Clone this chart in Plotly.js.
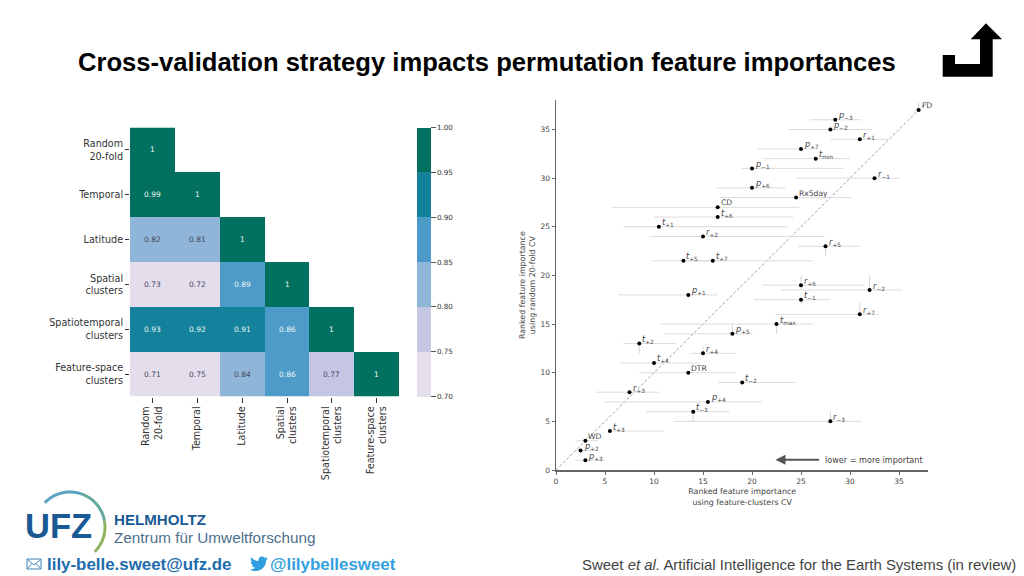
<!DOCTYPE html>
<html><head><meta charset="utf-8">
<script src="https://cdn.plot.ly/plotly-3.0.1.min.js"></script>
<style>html,body{margin:0;padding:0;background:#fff}#c{width:1024px;height:576px}</style>
</head><body><div id="c"></div>
<script>
const W=1024,H=576;
// ---- correlation matrix
const cvNames=['Random<br>20-fold','Temporal','Latitude','Spatial<br>clusters','Spatiotemporal<br>clusters','Feature-space<br>clusters'];
const corrRow1=[1,null,null,null,null,null];
const corrRow2=[0.99,1,null,null,null,null];
const corrRow3=[0.82,0.81,1,null,null,null];
const corrRow4=[0.73,0.72,0.89,1,null,null];
const corrRow5=[0.93,0.92,0.91,0.86,1,null];
const corrRow6=[0.71,0.75,0.84,0.86,0.77,1];
const corr=[corrRow1,corrRow2,corrRow3,corrRow4,corrRow5,corrRow6];
const bandColors=['#e4deec','#c4c6e3','#8fb6d8','#4c9bc9','#14829c','#01705e'];
const cbarTicks=[0.70,0.75,0.80,0.85,0.90,0.95,1.00];
// ---- feature ranks
const featLabels=['FD','<i>p</i><sub>−3</sub>','<i>p</i><sub>−2</sub>','<i>r</i><sub>+1</sub>','<i>p</i><sub>+7</sub>','<i>t</i><sub>min</sub>','<i>p</i><sub>−1</sub>','<i>r</i><sub>−1</sub>','<i>p</i><sub>+6</sub>','Rx5day','CD','<i>t</i><sub>+6</sub>','<i>t</i><sub>+1</sub>','<i>r</i><sub>+2</sub>','<i>r</i><sub>+5</sub>','<i>t</i><sub>+5</sub>','<i>t</i><sub>+7</sub>','<i>r</i><sub>+6</sub>','<i>r</i><sub>−2</sub>','<i>p</i><sub>+1</sub>','<i>t</i><sub>−1</sub>','<i>r</i><sub>+7</sub>','<i>t</i><sub>max</sub>','<i>p</i><sub>+5</sub>','<i>t</i><sub>+2</sub>','<i>r</i><sub>+4</sub>','<i>t</i><sub>+4</sub>','DTR','<i>t</i><sub>−2</sub>','<i>r</i><sub>+3</sub>','<i>p</i><sub>+4</sub>','<i>t</i><sub>−3</sub>','<i>r</i><sub>−3</sub>','<i>t</i><sub>+3</sub>','WD','<i>p</i><sub>+2</sub>','<i>p</i><sub>+3</sub>'];
const rankClusters=[37,28.5,28,31,25,26.5,20,32.5,20,24.5,16.5,16.5,10.5,15,27.5,13,16,25,32,13.5,25,31,22.5,18,8.5,15,10,13.5,19,7.5,15.5,14,28,5.5,3,2.5,3];
const rankRandom=[37,36,35,34,33,32,31,30,29,28,27,26,25,24,23,21.5,21.5,19,18.5,18,17.5,16,15,14,13,12,11,10,9,8,7,6,5,4,3,2,1];
const clustersLow=[36.6,25.9,23.7,28,20.6,21.2,19,24.5,16.3,16.7,5.7,10,6.9,9.5,24.7,9.8,13,21,23,6.3,20.2,22.4,10.7,11,6.9,13.8,6.5,8.5,16.5,4.1,4.9,9.2,12,5.4,2,2.3,2];
const clustersHigh=[37.4,31.2,32.2,33.9,26.6,30,29.3,35,23.4,30.2,24.8,24.2,23.6,27.4,31,17,26.2,31.5,35.3,16.5,28,33,26.2,20.1,12.2,18.4,14.7,18.3,24.5,10.5,21,17.7,31.2,11,4.3,3.8,5];
const randomLow=[37,36,35,34,33,32,31,30,29,28,27,26,25,24,22,21.5,21.5,18.5,18.5,18,17,16,14,14,12,12,11,10,9,8,7,5,5,4,3,2,1];
const randomHigh=[37.8,36,35,34,33,32,31,30,29,28,27,26,25,24,23,21.5,21.5,20,20,18,17.5,17.2,15,15,13,12.8,11,10,9,8,7,6,6,4,3,2,1];
const diagonal=[0,38];
const rankTicks=[0,5,10,15,20,25,30,35];
// ---- helpers for page furniture, written in page pixels
const px=(x)=>x/W, py=(y)=>1-y/H;
function arcPath(cx,cy,r,a0,a1){let s='';for(let i=0;i<=24;i++){const a=(a0+(a1-a0)*i/24)*Math.PI/180;s+=(i?'L':'M')+(cx+r*Math.cos(a)).toFixed(1)+','+(cy+r*Math.sin(a)).toFixed(1);}return s;}
const cornerArrow='M942.7,55L955,55L955,64L980,64L980,39.3L970.7,39.3L986,23.3L1002,39.3L992.7,39.3L992.7,76.7L942.7,76.7Z';
const birdRaw='M23,5C22.2,5.4,21.3,5.6,20.4,5.7C21.3,5.1,22,4.3,22.4,3.2C21.5,3.7,20.5,4.1,19.5,4.3C18.6,3.4,17.4,2.8,16,2.8C13.4,2.8,11.2,5,11.2,7.6C11.2,8,11.2,8.3,11.3,8.7C7.4,8.5,3.9,6.6,1.6,3.7C1.2,4.4,1,5.2,1,6.1C1,7.8,1.8,9.2,3.1,10.1C2.3,10.1,1.6,9.9,.9,9.5L.9,9.6C.9,11.9,2.6,13.9,4.8,14.3C4,14.5,3.2,14.5,2.6,14.4C3.2,16.3,5,17.7,7.1,17.7C4.6,19.6,2.3,20.2,0,19.9C2.2,21.3,4.7,22.1,7.5,22.1C16.5,22.1,21.5,14.6,21.5,8.1L21.5,7.5C22.5,6.8,23.3,5.9,24,5Z';
const bird=birdRaw.replace(/(-?[\d.]+),(-?[\d.]+)/g,(m,a,b)=>(250+a*0.75).toFixed(2)+','+(554.5+b*0.75).toFixed(2));
const pxShape=(o)=>Object.assign({xref:'x3',yref:'y3',layer:'above'},o);
const shapes=[
 pxShape({type:'path',path:cornerArrow,fillcolor:'#000',line:{width:0}}),
 pxShape({type:'path',path:arcPath(70,527,35,-136,-70),line:{color:'#5ba3c4',width:3}}),
 pxShape({type:'path',path:arcPath(70,527,35,-70,-10),line:{color:'#64ab9f',width:3}}),
 pxShape({type:'path',path:arcPath(70,527,35,-10,45),line:{color:'#8fb35c',width:3}}),
 pxShape({type:'rect',x0:27,x1:41,y0:559,y1:569,line:{color:'#3f86bd',width:1},fillcolor:'rgba(0,0,0,0)'}),
 pxShape({type:'path',path:'M27,559L34,565L41,559M27,569L32,563.5M41,569L36,563.5',line:{color:'#3f86bd',width:1}}),
 pxShape({type:'path',path:bird,fillcolor:'#2f9fe0',line:{width:0}})
];
const pageText=(x,y,text,size,color,extra)=>Object.assign({xref:'x3',yref:'y3',x,y,text,showarrow:false,xanchor:'left',yanchor:'middle',align:'left',font:{family:'Liberation Sans',size,color}},extra||{});
const annotations=[
 pageText(76,62,'<b>Cross-validation strategy impacts permutation feature importances</b>',25.6,'#000'),
 pageText(23,526,'<b>UFZ</b>',34.5,'#1a5a94'),
 pageText(112,519,'<b>HELMHOLTZ</b>',15.1,'#1a5a94'),
 pageText(112,537,'Zentrum für Umweltforschung',15.3,'#4d6f8e'),
 pageText(45,564,'<b>lily-belle.sweet@ufz.de</b>',16.9,'#1d6cae'),
 pageText(268,564,'<b>@lilybellesweet</b>',16.9,'#35a0e0'),
 pageText(580,564,'Sweet <i>et al.</i> Artificial Intelligence for the Earth Systems (in review)',14.95,'#444'),
 {xref:'x2',yref:'y2',axref:'x2',ayref:'y2',x:22.4,y:1.05,ax:27,ay:1.05,text:'',showarrow:true,arrowhead:2,arrowsize:1,arrowwidth:2,arrowcolor:'#555'},
 {xref:'x2',yref:'y2',x:27.25,y:1.05,text:'lower = more important',showarrow:false,xanchor:'left',yanchor:'middle',font:{family:'DejaVu Sans',size:8.1,color:'#444'}}
];
corr.forEach((row,i)=>row.forEach((v,j)=>{
 if(v===null)return;
 annotations.push({xref:'x',yref:'y',x:cvNames[j],y:cvNames[i],text:String(v),showarrow:false,
  font:{family:'DejaVu Sans',size:7.5,color:v>=0.85?'#eef7f6':'#45455a'}});
}));
featLabels.forEach((t,i)=>{
 annotations.push({xref:'x2',yref:'y2',x:rankClusters[i],y:rankRandom[i],text:t,showarrow:false,xanchor:'left',yanchor:'middle',xshift:1,yshift:t[0]==='<'?4:4.5,
  font:{family:'DejaVu Sans',size:t[0]==='<'?8.2:7.6,color:'#444'}});
});
// discrete colour scale built from the bands (a value on a band edge stays in the lower band)
const nb=bandColors.length, colorscale=[], edge=0.002;
bandColors.forEach((c,i)=>{colorscale.push([i?i/nb+edge:0,c]);colorscale.push([i<nb-1?(i+1)/nb+edge-0.0001:1,c]);});
const heat={type:'heatmap',x:cvNames,y:cvNames,z:corr,zmin:0.7,zmax:1,colorscale,xgap:0,ygap:0,hoverinfo:'skip',
 colorbar:{x:417.3/W,xanchor:'left',xpad:0,ypad:0,y:py(262),yanchor:'middle',len:269/H,lenmode:'fraction',thickness:13.5,thicknessmode:'pixels',outlinewidth:0,
  tickmode:'array',tickvals:cbarTicks,ticktext:cbarTicks.map(v=>v.toFixed(2)),ticks:'outside',ticklen:5,tickwidth:1,tickcolor:'#555',
  tickfont:{family:'DejaVu Sans',size:7.2,color:'#333'}}};
const diag={type:'scatter',mode:'lines',x:diagonal,y:diagonal,xaxis:'x2',yaxis:'y2',line:{color:'#8fa8a4',width:1,dash:'3px,2px'},hoverinfo:'skip',showlegend:false};
const points={type:'scatter',mode:'markers',x:rankClusters,y:rankRandom,xaxis:'x2',yaxis:'y2',marker:{color:'#000',size:4},hoverinfo:'skip',showlegend:false,cliponaxis:false,
 error_x:{type:'data',symmetric:false,array:rankClusters.map((v,i)=>clustersHigh[i]-v),arrayminus:rankClusters.map((v,i)=>v-clustersLow[i]),width:0,thickness:1,color:'#dcdcdc'},
 error_y:{type:'data',symmetric:false,array:rankRandom.map((v,i)=>randomHigh[i]-v),arrayminus:rankRandom.map((v,i)=>v-randomLow[i]),width:0,thickness:1,color:'#d8d8d8'}};
const page={type:'scatter',x:[],y:[],xaxis:'x3',yaxis:'y3',hoverinfo:'skip',showlegend:false};
const catFont={family:'DejaVu Sans',size:9.6,color:'#333'};
const rankFont={family:'DejaVu Sans',size:7.5,color:'#444'};
const titleFont={family:'DejaVu Sans',size:7.9,color:'#444'};
const layout={width:W,height:H,margin:{l:0,r:0,t:0,b:0},autosize:false,paper_bgcolor:'#fff',plot_bgcolor:'rgba(0,0,0,0)',showlegend:false,
 xaxis:{domain:[px(130),px(399.3)],anchor:'y',type:'category',side:'bottom',showgrid:false,zeroline:false,ticks:'outside',ticklen:5,tickcolor:'#333',tickangle:-90,tickfont:catFont,ticklabelshift:1.5,automargin:false},
 yaxis:{domain:[py(396.5),py(127.5)],anchor:'x',type:'category',autorange:'reversed',showgrid:false,zeroline:false,ticks:'outside',ticklen:4,tickcolor:'#333',tickfont:catFont,automargin:false},
 xaxis2:{domain:[px(556),px(928.4)],anchor:'y2',range:[0,38],tickvals:rankTicks,showgrid:false,zeroline:false,showline:true,linecolor:'#666',linewidth:1.5,ticks:'outside',ticklen:3,tickcolor:'#666',tickfont:rankFont,
  title:{text:'Ranked feature importance<br>using feature-clusters CV',font:titleFont,standoff:4},automargin:false},
 yaxis2:{domain:[py(470),py(100.3)],anchor:'x2',range:[0,38],tickvals:rankTicks,showgrid:false,zeroline:false,showline:true,linecolor:'#666',linewidth:1.5,ticks:'outside',ticklen:3,tickcolor:'#666',tickfont:rankFont,
  title:{text:'Ranked feature importance<br>using random 20-fold CV',font:titleFont,standoff:3},automargin:false},
 xaxis3:{domain:[0,1],anchor:'y3',range:[0,W],visible:false,fixedrange:true},
 yaxis3:{domain:[0,1],anchor:'x3',range:[H,0],visible:false,fixedrange:true},
 shapes,annotations};
Plotly.newPlot('c',[page,heat,diag,points],layout,{displayModeBar:false,staticPlot:true});
</script></body></html>
